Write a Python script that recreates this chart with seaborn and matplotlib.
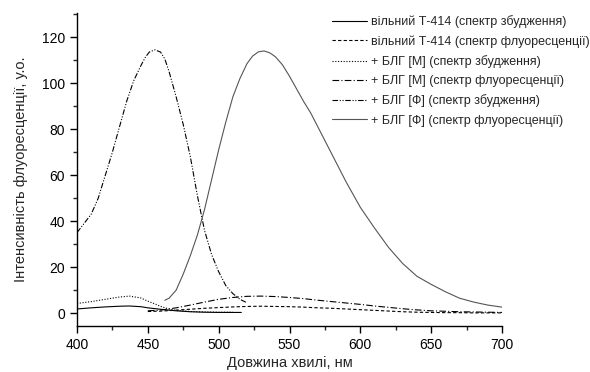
import matplotlib
matplotlib.use("Agg")
import matplotlib.pyplot as plt
from matplotlib.ticker import MultipleLocator
import seaborn as sns
import pandas as pd

# вільний Т-414, спектр збудження
free_exc_x = [400, 410, 420, 430, 437, 445, 450, 460, 470, 480, 490, 500, 510, 516]
free_exc_y = [1.8, 2.3, 2.7, 3.0, 3.1, 2.8, 2.3, 1.6, 1.0, 0.6, 0.4, 0.3, 0.3, 0.3]

# вільний Т-414, спектр флуоресценції
free_fl_x = [450, 460, 470, 480, 490, 500, 510, 520, 530, 540, 550, 560, 570, 580, 590, 600,
             610, 620, 630, 640, 650, 660, 670, 680, 690, 700]
free_fl_y = [0.7, 0.9, 1.3, 1.7, 2.1, 2.4, 2.7, 2.9, 3.0, 2.9, 2.8, 2.6, 2.3, 2.1, 1.8, 1.5,
             1.2, 0.9, 0.6, 0.4, 0.3, 0.2, 0.2, 0.1, 0.1, 0.1]

# + БЛГ [М], спектр збудження
m_exc_x = [400, 410, 420, 430, 437, 445, 450, 455, 460, 465, 470, 480, 490, 500, 510]
m_exc_y = [4.2, 5.0, 6.0, 7.0, 7.4, 6.6, 5.2, 4.0, 2.7, 1.8, 1.2, 0.7, 0.5, 0.4, 0.4]

# + БЛГ [М], спектр флуоресценції
m_fl_x = [450, 460, 470, 480, 490, 500, 510, 520, 530, 540, 550, 560, 570, 580, 590, 600,
          610, 620, 630, 640, 650, 660, 670, 680, 690, 700]
m_fl_y = [1.0, 1.4, 2.3, 3.5, 4.8, 6.0, 6.8, 7.3, 7.4, 7.2, 6.8, 6.3, 5.6, 5.0, 4.4, 3.8,
          3.1, 2.5, 1.9, 1.4, 1.0, 0.8, 0.6, 0.5, 0.4, 0.3]

# + БЛГ [Ф], спектр збудження
f_exc_x = [400, 405, 410, 415, 420, 425, 430, 435, 440, 445, 448, 451, 455, 459, 462, 465,
           470, 475, 480, 485, 490, 495, 500, 505, 510, 515, 520]
f_exc_y = [35, 39, 43, 50, 60, 70, 81, 92, 101, 107.5, 111, 113.5, 114.5, 113.5, 110.5, 105,
           94, 82, 68, 51, 36, 25.5, 18, 12, 8.5, 6, 4.5]

# + БЛГ [Ф], спектр флуоресценції
f_fl_x = [462, 465, 470, 475, 480, 485, 490, 495, 500, 505, 510, 515, 520, 524, 528, 532,
          536, 540, 545, 550, 555, 560, 565, 570, 575, 580, 590, 600, 610, 620, 630, 640,
          650, 660, 670, 680, 690, 700]
f_fl_y = [5.6, 6.5, 10, 17, 25, 34, 45, 58, 71, 83, 94, 102, 108.5, 111.8, 113.6, 114,
          113.2, 111.5, 108, 103, 97.5, 92, 87, 81, 75, 69, 57, 46, 37, 28.5, 21.5, 16,
          12.5, 9.3, 6.5, 4.8, 3.5, 2.6]

labels = [
    "вільний Т-414 (спектр збудження)",
    "вільний Т-414 (спектр флуоресценції)",
    "+ БЛГ [М] (спектр збудження)",
    "+ БЛГ [М] (спектр флуоресценції)",
    "+ БЛГ [Ф] (спектр збудження)",
    "+ БЛГ [Ф] (спектр флуоресценції)",
]

series = [(free_exc_x, free_exc_y), (free_fl_x, free_fl_y), (m_exc_x, m_exc_y),
          (m_fl_x, m_fl_y), (f_exc_x, f_exc_y), (f_fl_x, f_fl_y)]
styles = [
    dict(color="black", dashes=None),
    dict(color="black", dashes=(3, 2)),
    dict(color="black", dashes=(1, 1.5)),
    dict(color="black", dashes=(6, 2, 1, 2)),
    dict(color="black", dashes=(5, 1.5, 1, 1.5, 1, 1.5)),
    dict(color="#555555", dashes=None),
]

sns.set_style("ticks")
plt.rcParams["font.family"] = ["Liberation Sans", "DejaVu Sans"]

fig = plt.figure(figsize=(5.9, 3.72), dpi=100)
ax = fig.add_axes([77 / 590, 1 - 326 / 372, 425 / 590, 313 / 372])

for (xs, ys), lab, st in zip(series, labels, styles):
    df = pd.DataFrame({"x": xs, "y": ys})
    sns.lineplot(data=df, x="x", y="y", ax=ax, label=lab, color=st["color"],
                 linewidth=0.8, sort=True)
    if st["dashes"] is not None:
        ax.lines[-1].set_dashes(st["dashes"])

ax.set_xlim(400, 700)
ax.set_ylim(-5.6, 130.5)
ax.xaxis.set_major_locator(MultipleLocator(50))
ax.xaxis.set_minor_locator(MultipleLocator(25))
ax.yaxis.set_major_locator(MultipleLocator(20))
ax.yaxis.set_minor_locator(MultipleLocator(10))
ax.tick_params(which="major", direction="out", length=5, width=1, labelsize=10, colors="black")
ax.tick_params(which="minor", direction="out", length=3, width=1)
for s in ["top", "right"]:
    ax.spines[s].set_visible(False)
for s in ["left", "bottom"]:
    ax.spines[s].set_linewidth(1)
    ax.spines[s].set_color("black")

ax.set_xlabel("Довжина хвилі, нм", fontsize=10.5, labelpad=3)
ax.set_ylabel("Інтенсивність флуоресценції, у.о.", fontsize=10.5, labelpad=10)

handles, labs = ax.get_legend_handles_labels()
ax.legend_.remove()
fig.legend(handles, labs, loc="upper left", bbox_to_anchor=(332 / 590, 1 - 15 / 372),
           frameon=False, fontsize=9, handlelength=2.8, handletextpad=0.3,
           labelspacing=0.58, borderaxespad=0, borderpad=0)

fig.savefig("out.png", dpi=100)
